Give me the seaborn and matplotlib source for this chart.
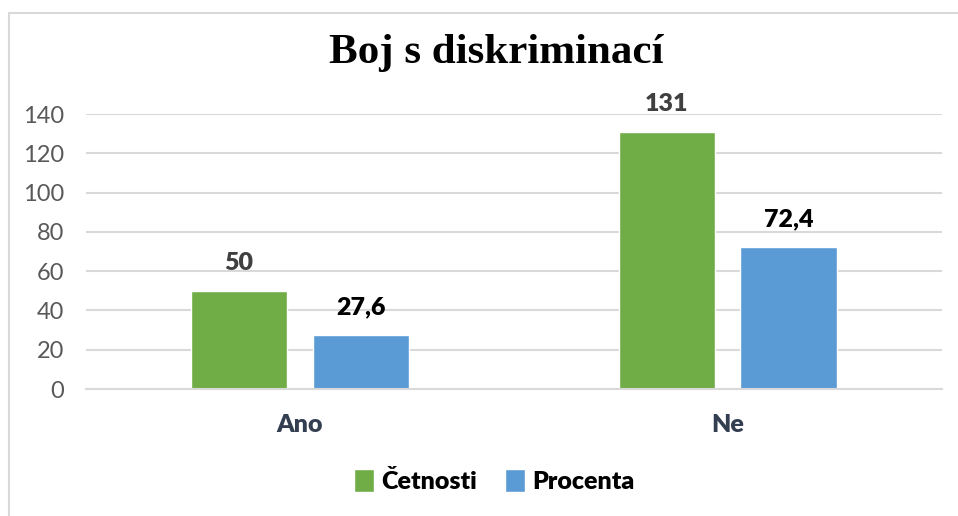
import matplotlib.pyplot as plt
import seaborn as sns
import pandas as pd
from matplotlib.patches import Rectangle

sns.set_theme(style="white")
plt.rcParams["font.family"] = ["Lato", "DejaVu Sans"]

# Daten
kategorie = ["Ano", "Ne"]
cetnosti = [50, 131]
procenta = [27.6, 72.4]
serie = ["Četnosti", "Procenta"]
barvy = {"Četnosti": "#70AD47", "Procenta": "#5B9BD5"}

df = pd.DataFrame({
    "Kategorie": kategorie * 2,
    "Hodnota": cetnosti + procenta,
    "Serie": [serie[0]] * len(kategorie) + [serie[1]] * len(kategorie),
})

fig = plt.figure(figsize=(9.58, 5.16), dpi=100)
ax = fig.add_axes([0.0898, 0.246, 0.893, 0.533])

sns.barplot(data=df, x="Kategorie", y="Hodnota", hue="Serie",
            palette=barvy, width=0.57, gap=0.21, ax=ax, saturation=1)

# popisky dat
label_colors = ["#404040", "#000000"]
for cont, col in zip(ax.containers, label_colors):
    labels = [f"{v:g}".replace(".", ",") for v in cont.datavalues]
    ax.bar_label(cont, labels=labels, padding=12, fontsize=18,
                 fontweight="heavy", color=col, clip_on=False)

ax.set_ylim(0, 140)
ax.set_xlim(-0.5, 1.5)
ax.set_yticks(range(0, 141, 20))
ax.yaxis.grid(True, color="#D9D9D9", linewidth=1.5)
ax.set_axisbelow(True)
for s in ["top", "right", "left"]:
    ax.spines[s].set_visible(False)
ax.spines["bottom"].set_color("#D9D9D9")
ax.spines["bottom"].set_linewidth(1.5)
ax.tick_params(axis="y", labelsize=17, labelcolor="#595959", length=0, pad=16)
ax.tick_params(axis="x", labelsize=18, labelcolor="#333F50", length=0, pad=18)
for t in ax.get_xticklabels():
    t.set_fontweight("heavy")
ax.set_xlabel("")
ax.set_ylabel("")

fig.suptitle("Boj s diskriminací", x=0.518, y=0.935, fontsize=31,
             fontweight="bold", family="Liberation Serif", color="black")

ax.legend(loc="center", bbox_to_anchor=(0.477, -0.335), ncol=2, frameon=False,
          prop={"size": 18, "weight": "heavy"}, handlelength=0.8,
          handleheight=1.0, handletextpad=0.3, columnspacing=1.1,
          labelcolor="black")

# rámeček grafu
fig.patches.append(Rectangle((9 / 958, -0.05), 1.2, 1 - 13 / 516 + 0.05,
                             transform=fig.transFigure, fill=False,
                             edgecolor="#D9D9D9", linewidth=1.5))

fig.savefig("out.png", dpi=100)
plt.close()
